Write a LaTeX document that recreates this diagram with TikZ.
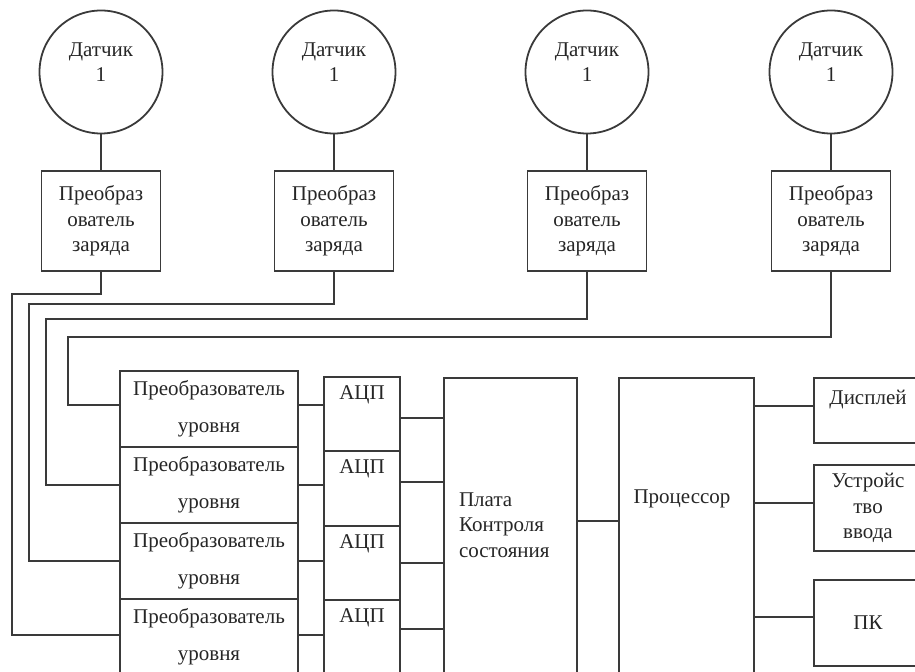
\documentclass[tikz,border=0pt]{standalone}
\usepackage{fontspec}
\setmainfont{Liberation Serif}
\usetikzlibrary{positioning}
\definecolor{ink}{HTML}{3A3A3A}
\tikzset{
    box/.style={draw=ink, line width=0.9pt, rectangle, align=center, inner sep=1pt, outer sep=0pt},
    sensor/.style={draw=ink, line width=0.9pt, circle, minimum size=61.5pt,
        label={[align=center, yshift=5pt]center:#1}},
    chg/.style={box, minimum width=59.5pt, minimum height=50pt},
    lvl/.style={box, minimum width=89pt, minimum height=38pt},
    adc/.style={box, minimum width=38pt, minimum height=37.2pt,
        label={[anchor=north, inner sep=4pt]north:АЦП}},
    tall/.style={box, minimum height=156pt},
    side/.style={box, minimum width=54pt},
    wire/.style={draw=ink, line width=0.9pt}
}
\begin{document}
\begin{tikzpicture}[x=0.5pt, y=-0.5pt, font=\fontsize{10.5}{12.8}\selectfont, text=black!85]
    \useasboundingbox (0,0) rectangle (915,672);
    % датчики
    \node[sensor={Датчик\\1}] (sens1) at (101,72) {};
    \node[sensor={Датчик\\1}] (sens2) at (334,72) {};
    \node[sensor={Датчик\\1}] (sens3) at (587,72) {};
    \node[sensor={Датчик\\1}] (sens4) at (831,72) {};
    % преобразователи заряда
    \node[chg] (chg1) at (101,221) {Преобраз\\ователь\\заряда};
    \node[chg] (chg2) at (334,221) {Преобраз\\ователь\\заряда};
    \node[chg] (chg3) at (587,221) {Преобраз\\ователь\\заряда};
    \node[chg] (chg4) at (831,221) {Преобраз\\ователь\\заряда};
    \draw[wire] (sens1) -- (chg1);
    \draw[wire] (sens2) -- (chg2);
    \draw[wire] (sens3) -- (chg3);
    \draw[wire] (sens4) -- (chg4);
    % преобразователи уровня
    \node[lvl] (lvl1) at (209,409) {Преобразователь\\[5.5pt]уровня};
    \node[lvl, below=0pt of lvl1] (lvl2) {Преобразователь\\[5.5pt]уровня};
    \node[lvl, below=0pt of lvl2] (lvl3) {Преобразователь\\[5.5pt]уровня};
    \node[lvl, below=0pt of lvl3] (lvl4) {Преобразователь\\[5.5pt]уровня};
    \coordinate (bus1) at (12,294);
    \coordinate (bus2) at (29,304);
    \coordinate (bus3) at (46,319);
    \coordinate (bus4) at (68,337);
    \draw[wire] (chg1) |- (bus1) |- ([yshift=1pt]lvl4.west);
    \draw[wire] (chg2) |- (bus2) |- (lvl3.west);
    \draw[wire] (chg3) |- (bus3) |- (lvl2.west);
    \draw[wire] (chg4) |- (bus4) |- ([yshift=2pt]lvl1.west);
    % АЦП
    \node[adc] (adc1) at (362,414.2) {};
    \node[adc, below=0pt of adc1] (adc2) {};
    \node[adc, below=0pt of adc2] (adc3) {};
    \node[adc, below=0pt of adc3] (adc4) {};
    \draw[wire] ([yshift=2pt]lvl1.east) -- ([yshift=2pt]lvl1.east -| adc1.west);
    \draw[wire] (lvl2.east) -- (lvl2.east -| adc2.west);
    \draw[wire] (lvl3.east) -- (lvl3.east -| adc3.west);
    \draw[wire] ([yshift=1pt]lvl4.east) -- ([yshift=1pt]lvl4.east -| adc4.west);
    % плата и процессор
    \node[tall, minimum width=66.5pt] (plate) at (510.5,534) {};
    \node[anchor=west, align=left] (platetxt) at (452,525) {Плата\\Контроля\\состояния};
    \node[tall, minimum width=67.5pt] (cpu) at (686.5,534) {};
    \node (cputxt) at (682,499) {Процессор};
    \draw[wire] ([yshift=-2pt]adc1.east) -- ([yshift=-2pt]adc1.east -| plate.west);
    \draw[wire] ([yshift=3.3pt]adc2.east) -- ([yshift=3.3pt]adc2.east -| plate.west);
    \draw[wire] (adc3.east) -- (adc3.east -| plate.west);
    \draw[wire] ([yshift=4pt]adc4.east) -- ([yshift=4pt]adc4.east -| plate.west);
    \draw[wire] ([yshift=6.5pt]plate.east) -- ([yshift=6.5pt]plate.east -| cpu.west);
    % периферия
    \node[side, minimum height=32.5pt, label={[anchor=north, inner sep=6pt]north:Дисплей}] (disp) at (868,410.5) {};
    \node[side, minimum height=43pt] (inp) at (868,508) {Устройс\\тво\\ввода};
    \node[side, minimum height=43pt] (pc) at (868,623) {ПК};
    \draw[wire] ([yshift=2.25pt]disp.west -| cpu.east) -- ([yshift=2.25pt]disp.west);
    \draw[wire] ([yshift=2.5pt]inp.west -| cpu.east) -- ([yshift=2.5pt]inp.west);
    \draw[wire] ([yshift=3pt]pc.west -| cpu.east) -- ([yshift=3pt]pc.west);
\end{tikzpicture}
\end{document}
